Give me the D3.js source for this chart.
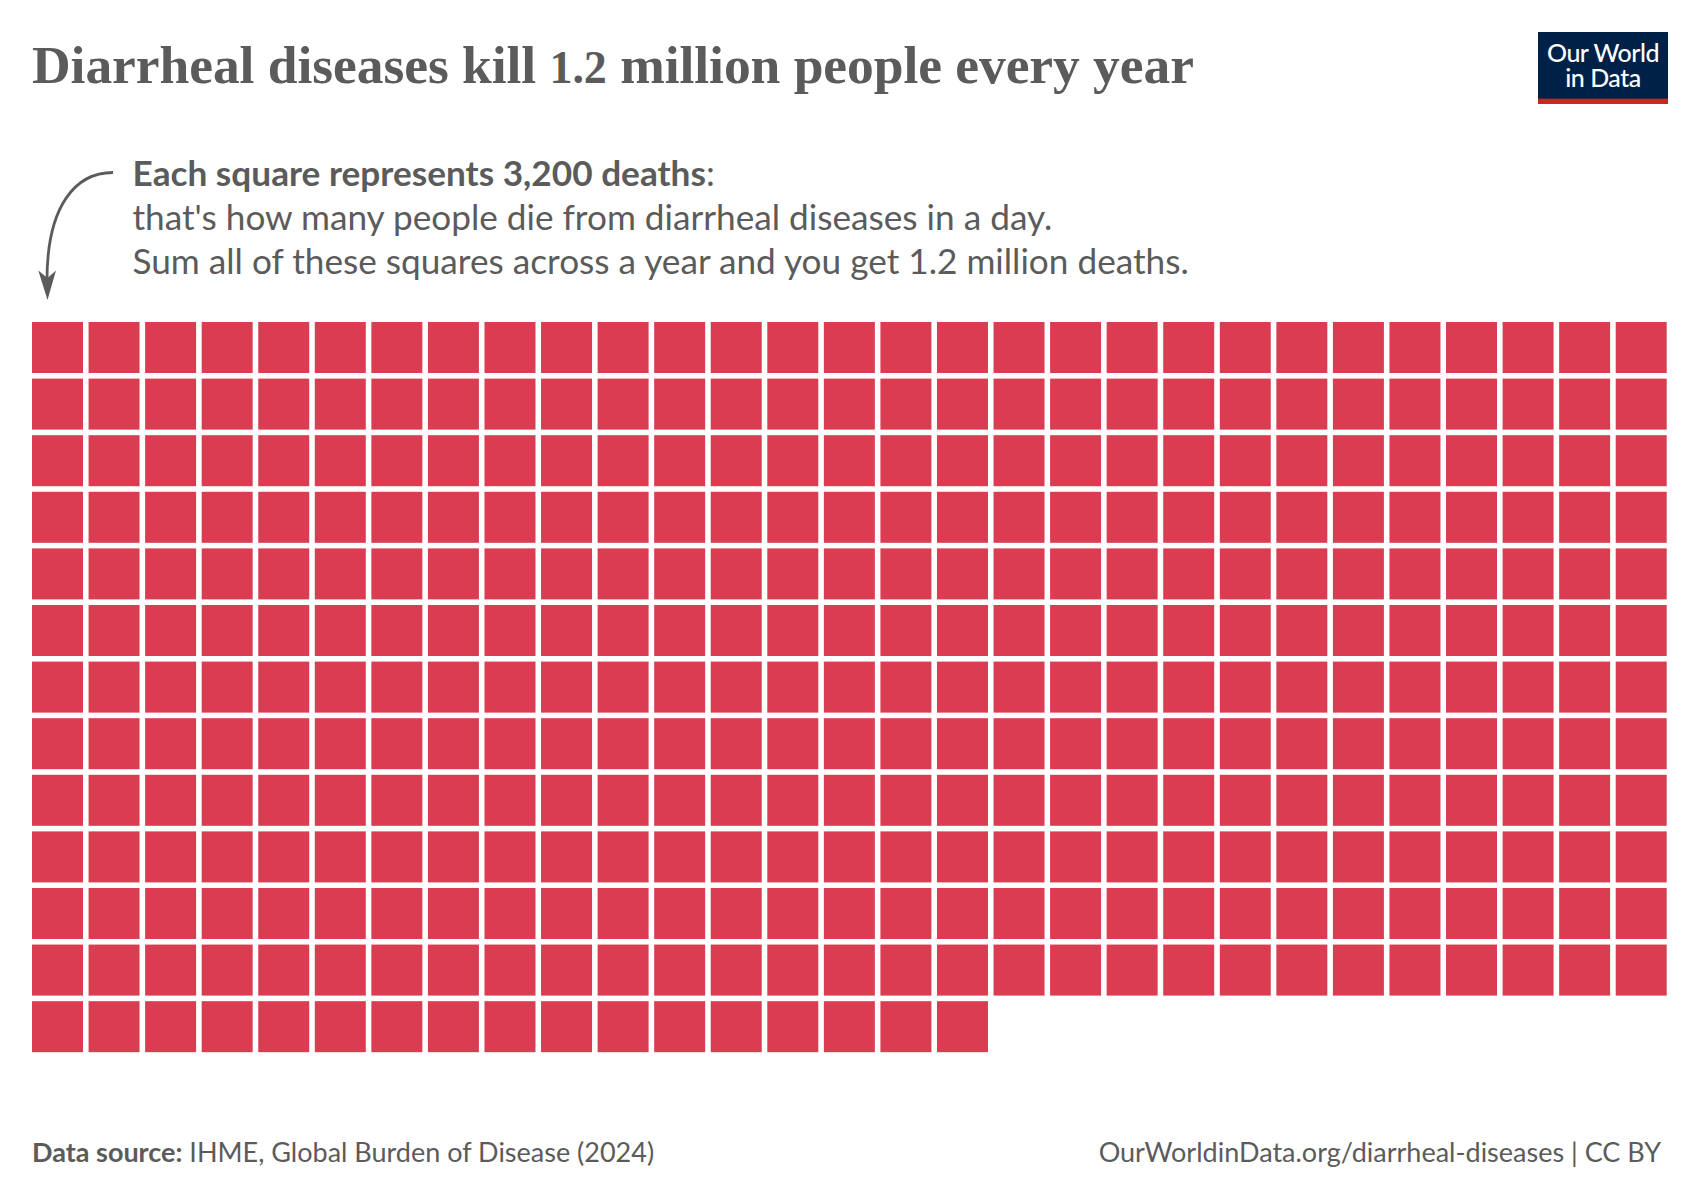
<!DOCTYPE html>
<html><head><meta charset="utf-8">
<script src="https://cdnjs.cloudflare.com/ajax/libs/d3/7.8.5/d3.min.js"></script>
<style>html,body{margin:0;padding:0;background:#fff}svg{display:block}text{font-family:Lato,sans-serif;fill:#5b5b5b}</style>
</head><body><svg id="c" width="1700" height="1200"></svg>
<script>
const squaresPerRow = [29,29,29,29,29,29,29,29,29,29,29,29,17];
const deathsPerSquare = 3200;
const titleParts = ["Diarrheal diseases kill ","1.2"," million people every year"];
const noteBold = "Each square represents 3,200 deaths";
const noteLines = ["that's how many people die from diarrheal diseases in a day.","Sum all of these squares across a year and you get 1.2 million deaths."];
const sourceLabel = "Data source:";
const sourceText = " IHME, Global Burden of Disease (2024)";
const urlText = "OurWorldinData.org/diarrheal-diseases | CC BY";
const logoLines = ["Our World","in Data"];

const svg = d3.select("#c");
svg.append("rect").attr("width",1700).attr("height",1200).attr("fill","#fff");

// title
const title = svg.append("text").attr("x",32).attr("y",83)
  .style("font-family","'Liberation Serif',serif").style("font-weight",700).style("font-size","53.5px").style("letter-spacing","-0.05px").style("fill","#5b5b5b");
title.selectAll("tspan").data(titleParts).join("tspan")
  .style("font-size",(d,i)=>i===1?"46px":null).text(d=>d);

// logo
const logo = svg.append("g");
logo.append("rect").attr("x",1538).attr("y",32).attr("width",130).attr("height",72).attr("fill","#002147");
logo.append("rect").attr("x",1538).attr("y",98.7).attr("width",130).attr("height",5.3).attr("fill","#ce261e");
logo.selectAll("text").data(logoLines).join("text").attr("x",1603).attr("y",(d,i)=>61.5+i*25)
  .attr("text-anchor","middle").style("fill","#fff").style("font-size","25px").style("font-weight",500).style("letter-spacing","-0.5px").text(d=>d);

// note
const n0 = svg.append("text").attr("x",132.5).attr("y",185.5).style("font-size","35.2px");
n0.append("tspan").style("font-weight",700).text(noteBold);
n0.append("tspan").text(":");
svg.selectAll(".nl").data(noteLines).join("text").attr("class","nl").attr("x",132.5).attr("y",(d,i)=>229.5+i*44)
  .style("font-size","35.2px").text(d=>d);

// arrow
svg.append("path").attr("d","M113,172.5C76,172.5 47,205 47,280").attr("fill","none").attr("stroke","#5b5b5b").attr("stroke-width",2.8);
svg.append("path").attr("d","M47.5,300L38.3,270.5L47.5,278L56,270.5Z").attr("fill","#5b5b5b");

// squares
const maxCols = d3.max(squaresPerRow);
const x = d3.scaleBand().domain(d3.range(maxCols)).range([32,1666.7]).paddingInner(0.0985);
const y = d3.scaleBand().domain(d3.range(squaresPerRow.length)).range([322,1052.2]).paddingInner(0.0985);
const squares = squaresPerRow.flatMap((n,r)=>d3.range(n).map(c=>({r,c,deaths:deathsPerSquare})));
svg.append("g").selectAll("rect").data(squares).join("rect")
  .attr("x",d=>x(d.c)).attr("y",d=>y(d.r)).attr("width",x.bandwidth()).attr("height",y.bandwidth()).attr("fill","#da3c51");

// footer
const f = svg.append("text").attr("x",32).attr("y",1161.5).style("font-size","27px");
f.append("tspan").style("font-weight",700).text(sourceLabel);
f.append("tspan").text(sourceText);
svg.append("text").attr("x",1661).attr("y",1161.5).attr("text-anchor","end").style("font-size","27px").text(urlText);
</script></body></html>
